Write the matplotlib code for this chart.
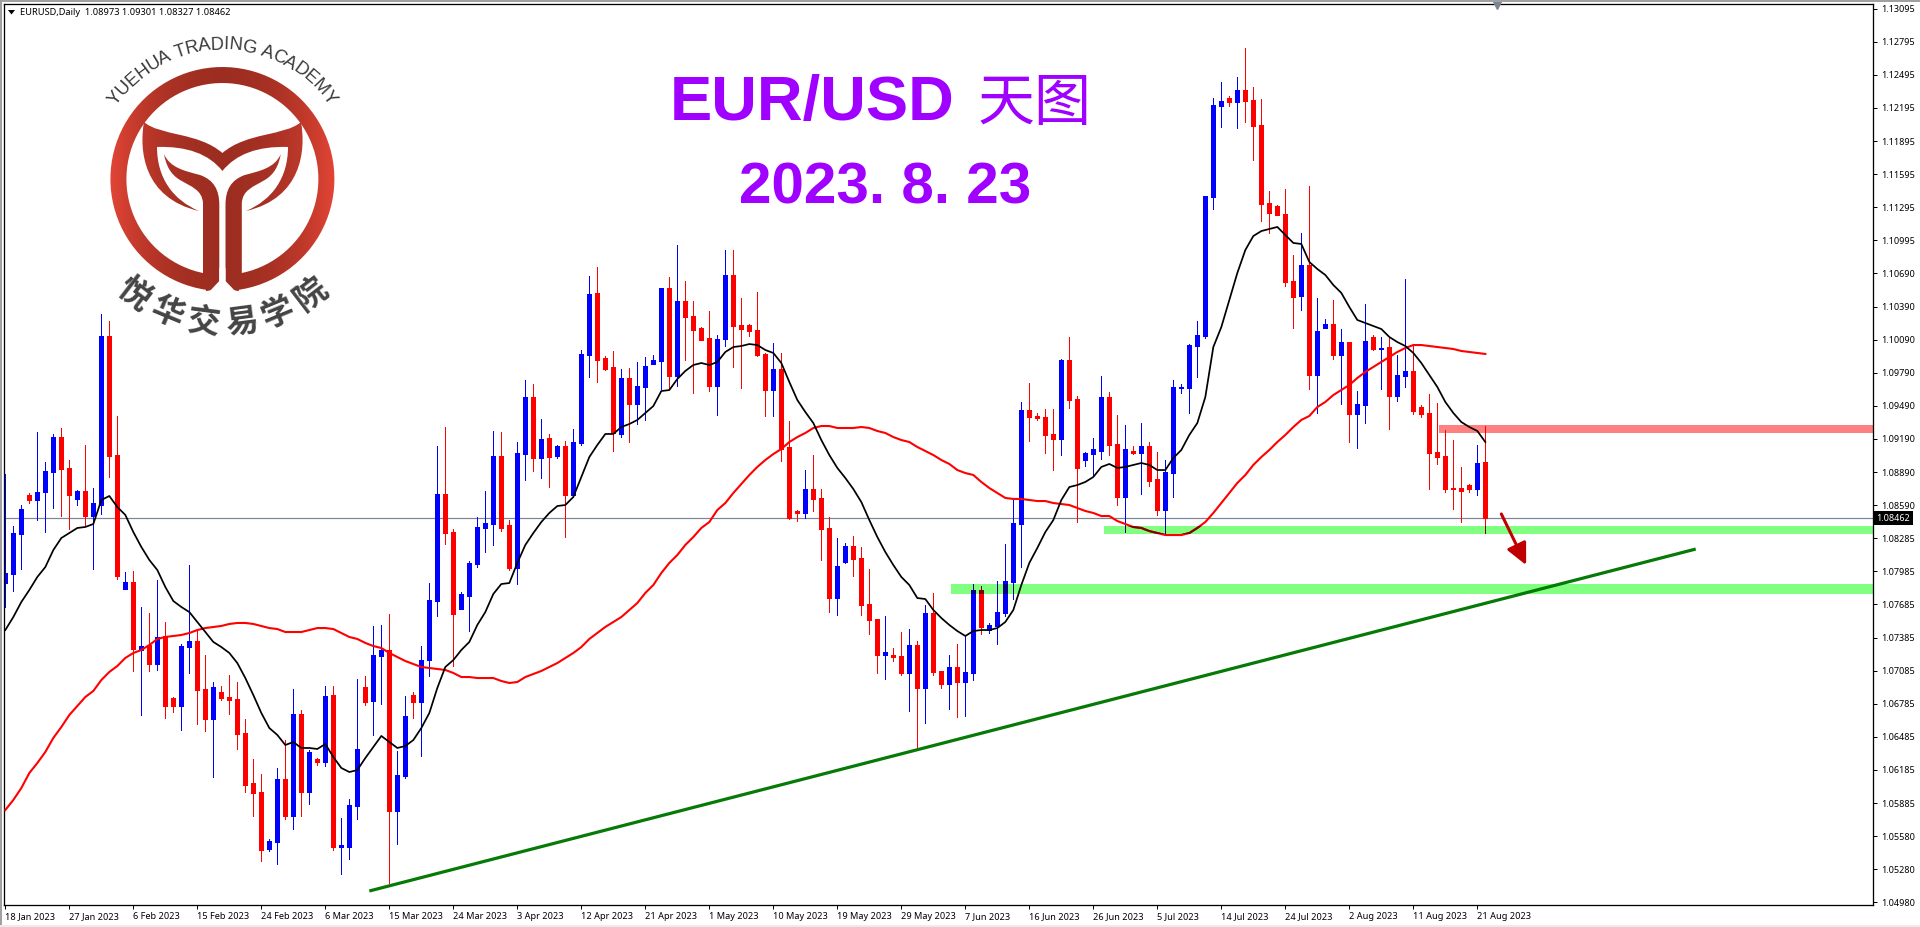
import numpy as np
import matplotlib
matplotlib.use("Agg")
import matplotlib.pyplot as plt
from matplotlib.patches import Rectangle, PathPatch, Polygon
from matplotlib.path import Path

# daily EURUSD candles
opens = [
    1.07874,1.07956,1.08318,1.08672,1.08626,1.08699,1.08880,1.09197,1.08917,1.08636,
    1.08708,1.08481,1.08581,1.10113,1.09034,1.07820,1.07883,1.07267,1.07312,1.07140,
    1.07394,1.06832,1.06760,1.07294,1.07349,1.06914,1.06642,1.06886,1.06841,1.06823,
    1.06515,1.06062,1.05980,1.05464,1.05527,1.06098,1.05763,1.06687,1.05980,1.06279,
    1.06252,1.06859,1.05482,1.05482,1.05853,1.06932,1.06805,1.07213,1.07267,1.05808,
    1.06125,1.06859,1.06796,1.07176,1.07711,1.08681,1.08336,1.07639,1.07756,1.08046,
    1.08373,1.08409,1.09025,1.08400,1.08010,1.09043,1.09560,1.09007,1.09188,1.09025,
    1.09116,1.08672,1.09143,1.09941,1.10503,1.09913,1.09832,1.09225,1.09732,1.09497,
    1.09651,1.09859,1.09886,1.10548,1.09750,1.10430,1.10294,1.10185,1.10095,1.09660,
    1.10086,1.10666,1.10213,1.10213,1.10167,1.09950,1.09623,1.09814,1.09107,1.08527,
    1.08509,1.08726,1.08645,1.08373,1.07738,1.08065,1.08210,1.08101,1.07684,1.07548,
    1.07222,1.07222,1.07213,1.07059,1.07312,1.06923,1.07602,1.07077,1.06959,1.07113,
    1.06977,1.07059,1.07811,1.07448,1.07485,1.07602,1.07883,1.08409,1.09442,1.09388,
    1.09379,1.09225,1.09179,1.09895,1.09542,1.08989,1.09043,1.09071,1.09560,1.09134,
    1.08654,1.09071,1.09052,1.09116,1.08817,1.08536,1.08871,1.09642,1.09642,1.10022,
    1.10113,1.11373,1.12197,1.12270,1.12234,1.12342,1.12252,1.12025,1.11318,1.11291,
    1.11219,1.10611,1.10475,1.10756,1.09759,1.10185,1.10222,1.09941,1.10058,1.09406,
    1.09487,1.10104,1.09995,1.10013,1.09569,1.09750,1.09796,1.09469,1.09415,1.09062,
    1.09025,1.08735,1.08735,1.08762,1.08726,1.08973,
]
highs = [
    1.08862,1.08391,1.08581,1.08690,1.09243,1.08971,1.09225,1.09279,1.08989,1.08717,
    1.09125,1.08735,1.10312,1.10249,1.09388,1.07974,1.07983,1.07657,1.07602,1.07901,
    1.07521,1.06841,1.07321,1.08037,1.07448,1.07222,1.06977,1.06941,1.07040,1.06977,
    1.06642,1.06279,1.06143,1.05554,1.06198,1.06451,1.06914,1.06723,1.06361,1.06288,
    1.06941,1.06941,1.05744,1.05917,1.07004,1.07031,1.07485,1.07494,1.07593,1.06352,
    1.06850,1.06886,1.07303,1.07874,1.09116,1.09288,1.08364,1.07793,1.08074,1.08472,
    1.08708,1.09252,1.09243,1.08445,1.09152,1.09714,1.09678,1.09361,1.09225,1.09125,
    1.09161,1.09270,1.09986,1.10657,1.10738,1.09932,1.09977,1.09814,1.09823,1.09877,
    1.09923,1.09941,1.10548,1.10648,1.10938,1.10611,1.10430,1.10194,1.10339,1.10122,
    1.10892,1.10892,1.10457,1.10222,1.10512,1.09959,1.10049,1.09959,1.09342,1.08536,
    1.08898,1.09034,1.08726,1.08472,1.08282,1.08237,1.08300,1.08201,1.08001,1.07548,
    1.07575,1.07285,1.07430,1.07457,1.07349,1.07675,1.07784,1.07077,1.07222,1.07321,
    1.07394,1.07865,1.07847,1.07512,1.07892,1.08228,1.08636,1.09515,1.09687,1.09415,
    1.09451,1.09451,1.09904,1.10104,1.09569,1.09062,1.09188,1.09750,1.09605,1.09397,
    1.09306,1.09116,1.09324,1.09152,1.09062,1.08989,1.09714,1.09678,1.10040,1.10249,
    1.11382,1.12270,1.12415,1.12288,1.12460,1.12723,1.12370,1.12261,1.11427,1.11300,
    1.11445,1.10847,1.11046,1.11472,1.10457,1.10267,1.10439,1.10176,1.10058,1.09614,
    1.10403,1.10122,1.10104,1.10104,1.09941,1.10629,1.10022,1.09487,1.09587,1.09506,
    1.09261,1.09170,1.08926,1.08772,1.09125,1.09301,
]
lows = [
    1.07657,1.07802,1.08001,1.08599,1.08445,1.08336,1.08554,1.08481,1.08364,1.08581,
    1.08400,1.08001,1.08500,1.08835,1.07911,1.07820,1.07077,1.06678,1.07077,1.07086,
    1.06651,1.06705,1.06542,1.07059,1.06596,1.06533,1.06116,1.06814,1.06687,1.06370,
    1.05980,1.05763,1.05355,1.05445,1.05328,1.05735,1.05645,1.05763,1.05871,1.06225,
    1.06216,1.05454,1.05237,1.05373,1.05735,1.06769,1.06497,1.06778,1.05155,1.05509,
    1.06107,1.06651,1.06306,1.07031,1.07575,1.08228,1.07122,1.07639,1.07439,1.08019,
    1.08155,1.08219,1.08345,1.07992,1.07865,1.08808,1.08889,1.08826,1.08744,1.09007,
    1.08291,1.08654,1.09125,1.09741,1.09696,1.09805,1.09071,1.09197,1.09152,1.09315,
    1.09352,1.09859,1.09632,1.09632,1.09660,1.09895,1.09596,1.10077,1.09614,1.09397,
    1.10022,1.09832,1.09642,1.10113,1.09932,1.09388,1.09388,1.08980,1.08454,1.08436,
    1.08463,1.08527,1.08083,1.07611,1.07584,1.08056,1.07938,1.07584,1.07412,1.07059,
    1.07004,1.07167,1.07040,1.06714,1.06370,1.06605,1.07040,1.06923,1.06732,1.06660,
    1.06669,1.06995,1.07412,1.07421,1.07321,1.07575,1.07729,1.08019,1.09161,1.09352,
    1.09052,1.08898,1.09034,1.09460,1.08427,1.08935,1.08853,1.08998,1.09034,1.08581,
    1.08336,1.09043,1.08681,1.08753,1.08491,1.08309,1.08654,1.09596,1.09415,1.09741,
    1.10095,1.11264,1.12007,1.12197,1.11998,1.12052,1.11708,1.11155,1.11046,1.11209,
    1.10566,1.10185,1.10348,1.09632,1.09415,1.10185,1.09904,1.09497,1.09152,1.09098,
    1.09324,1.09986,1.09632,1.09270,1.09524,1.09651,1.09406,1.09379,1.08726,1.08953,
    1.08699,1.08545,1.08427,1.08699,1.08672,1.08327,
]
closes = [
    1.07965,1.08327,1.08545,1.08626,1.08699,1.08889,1.09197,1.08907,1.08672,1.08708,
    1.08481,1.08599,1.10113,1.09025,1.07938,1.07883,1.07276,1.07303,1.07140,1.07385,
    1.06760,1.06760,1.07303,1.07349,1.06905,1.06642,1.06932,1.06832,1.06814,1.06506,
    1.06044,1.05971,1.05454,1.05536,1.06098,1.05763,1.06687,1.05980,1.06343,1.06252,
    1.06850,1.05482,1.05500,1.05862,1.06370,1.06796,1.07222,1.07267,1.05808,1.06134,
    1.06669,1.06796,1.07176,1.07720,1.08681,1.08327,1.07593,1.07775,1.08056,1.08382,
    1.08418,1.09025,1.08373,1.08010,1.09052,1.09560,1.09007,1.09179,1.09016,1.09116,
    1.08672,1.09152,1.09950,1.10493,1.09895,1.09814,1.09234,1.09732,1.09497,1.09660,
    1.09841,1.09895,1.10548,1.09750,1.10430,1.10285,1.10167,1.10077,1.09660,1.10086,
    1.10666,1.10203,1.10176,1.10158,1.09941,1.09623,1.09814,1.09089,1.08463,1.08509,
    1.08726,1.08636,1.08364,1.07738,1.08028,1.08210,1.08092,1.07675,1.07539,1.07222,
    1.07249,1.07204,1.07059,1.07312,1.06923,1.07602,1.07068,1.06959,1.07113,1.06977,
    1.07068,1.07811,1.07476,1.07494,1.07611,1.07892,1.08418,1.09442,1.09379,1.09370,
    1.09216,1.09179,1.09895,1.09533,1.08917,1.09052,1.09089,1.09560,1.09125,1.08654,
    1.09089,1.09052,1.09116,1.08799,1.08536,1.08880,1.09651,1.09651,1.10031,1.10122,
    1.11382,1.12206,1.12243,1.12234,1.12342,1.12243,1.12016,1.11309,1.11228,1.11209,
    1.10602,1.10466,1.10756,1.09759,1.10158,1.10222,1.09941,1.10058,1.09406,1.09497,
    1.10068,1.09995,1.10004,1.09569,1.09759,1.09796,1.09433,1.09406,1.09052,1.09016,
    1.08726,1.08726,1.08708,1.08726,1.08962,1.08462,
]
# moving averages, one value per candle
ma_black = [
    1.07448,1.07566,1.07702,1.07811,1.07929,1.08019,1.08173,1.08282,1.08327,1.08373,
    1.08382,1.08409,1.08626,1.08663,1.08563,1.08491,1.08336,1.08201,1.08083,1.07992,
    1.07838,1.07711,1.07657,1.07611,1.07521,1.07430,1.07340,1.07294,1.07240,1.07149,
    1.07013,1.06859,1.06696,1.06560,1.06497,1.06406,1.06433,1.06379,1.06379,1.06370,
    1.06415,1.06297,1.06198,1.06161,1.06179,1.06288,1.06388,1.06488,1.06433,1.06379,
    1.06397,1.06451,1.06560,1.06696,1.06923,1.07113,1.07176,1.07267,1.07340,1.07494,
    1.07611,1.07775,1.07865,1.07874,1.08056,1.08219,1.08327,1.08427,1.08509,1.08572,
    1.08581,1.08654,1.08835,1.09016,1.09125,1.09225,1.09225,1.09288,1.09315,1.09352,
    1.09415,1.09478,1.09614,1.09623,1.09723,1.09796,1.09850,1.09868,1.09850,1.09877,
    1.09968,1.10013,1.10022,1.10040,1.10031,1.09986,1.09959,1.09868,1.09696,1.09533,
    1.09424,1.09324,1.09170,1.09034,1.08917,1.08826,1.08726,1.08608,1.08445,1.08291,
    1.08155,1.08037,1.07929,1.07856,1.07738,1.07729,1.07630,1.07557,1.07494,1.07439,
    1.07394,1.07439,1.07448,1.07448,1.07466,1.07521,1.07630,1.07856,1.08056,1.08192,
    1.08336,1.08445,1.08626,1.08744,1.08762,1.08790,1.08835,1.08926,1.08953,1.08917,
    1.08926,1.08944,1.08962,1.08944,1.08898,1.08898,1.09007,1.09080,1.09216,1.09324,
    1.09560,1.10013,1.10194,1.10439,1.10684,1.10892,1.11019,1.11064,1.11083,1.11101,
    1.11028,1.10956,1.10947,1.10784,1.10720,1.10666,1.10575,1.10503,1.10376,1.10258,
    1.10231,1.10203,1.10176,1.10104,1.10058,1.10022,1.09959,1.09868,1.09759,1.09651,
    1.09515,1.09415,1.09333,1.09288,1.09252,1.09152,
]
ma_red = [
    1.05817,1.05908,1.06016,1.06152,1.06243,1.06343,1.06470,1.06569,1.06678,1.06760,
    1.06841,1.06896,1.06995,1.07068,1.07122,1.07195,1.07240,1.07267,1.07312,1.07367,
    1.07385,1.07394,1.07403,1.07421,1.07448,1.07466,1.07476,1.07485,1.07503,1.07512,
    1.07512,1.07503,1.07485,1.07466,1.07457,1.07430,1.07430,1.07430,1.07448,1.07466,
    1.07466,1.07457,1.07421,1.07385,1.07367,1.07331,1.07303,1.07285,1.07240,1.07204,
    1.07167,1.07140,1.07113,1.07104,1.07095,1.07086,1.07059,1.07022,1.07022,1.07013,
    1.07013,1.07013,1.06986,1.06968,1.06977,1.07022,1.07050,1.07077,1.07113,1.07149,
    1.07195,1.07240,1.07294,1.07367,1.07421,1.07476,1.07521,1.07566,1.07630,1.07693,
    1.07784,1.07856,1.07965,1.08056,1.08128,1.08219,1.08291,1.08373,1.08427,1.08536,
    1.08599,1.08690,1.08772,1.08853,1.08926,1.08989,1.09043,1.09089,
    1.09152,1.09197,1.09234,1.09279,1.09297,1.09297,1.09279,1.09279,1.09279,1.09288,
    1.09279,1.09252,1.09234,1.09197,1.09170,1.09152,1.09107,1.09071,1.09034,1.08989,1.08953,
    1.08898,1.08871,1.08853,1.08790,1.08735,1.08690,1.08645,1.08636,1.08636,1.08626,
    1.08617,1.08617,1.08599,1.08590,1.08581,1.08554,1.08527,1.08509,
    1.08481,1.08481,1.08436,1.08409,1.08382,1.08373,1.08345,1.08327,1.08309,1.08309,
    1.08309,1.08327,1.08373,1.08427,1.08509,1.08599,1.08690,1.08781,1.08853,1.08944,
    1.09016,1.09080,1.09152,1.09216,1.09288,1.09352,1.09388,1.09469,1.09515,1.09578,
    1.09623,1.09669,1.09732,1.09787,1.09832,1.09877,1.09923,1.09968,1.10004,1.10031,
    1.10031,1.10022,1.10013,1.10004,1.09995,1.09977,1.09968,1.09959,1.09950,
]
price_labels = ["1.13095","1.12795","1.12495","1.12195","1.11895","1.11595","1.11295",
                "1.10995","1.10690","1.10390","1.10090","1.09790","1.09490","1.09190",
                "1.08890","1.08590","1.08285","1.07985","1.07685","1.07385","1.07085",
                "1.06785","1.06485","1.06185","1.05885","1.05580","1.05280","1.04980"]
date_labels = ["18 Jan 2023","27 Jan 2023","6 Feb 2023","15 Feb 2023","24 Feb 2023",
               "6 Mar 2023","15 Mar 2023","24 Mar 2023","3 Apr 2023","12 Apr 2023",
               "21 Apr 2023","1 May 2023","10 May 2023","19 May 2023","29 May 2023",
               "7 Jun 2023","16 Jun 2023","26 Jun 2023","5 Jul 2023","14 Jul 2023",
               "24 Jul 2023","2 Aug 2023","11 Aug 2023","21 Aug 2023"]
last_price = 1.08462
trend_x = [45.5, 211.3]
trend_y = [1.05083, 1.08182]
arrow_x = [187.0, 190.1]
arrow_y = [1.08500, 1.08037]
# zones: first candle, low, high, colour
zones = [(137.3, 1.08318, 1.08391, (0.5, 1.0, 0.5)),
         (118.2, 1.07775, 1.07865, (0.5, 1.0, 0.5)),
         (179.2, 1.09234, 1.09306, (1.0, 0.5, 0.5))]

W, H = 1920, 927
ax_left, ax_right, ax_top, ax_bottom = 4, 1873, 4, 905
SMALL = ["Noto Sans", "DejaVu Sans"]
CJK = ["Noto Sans CJK SC", "DejaVu Sans"]
PURPLE = "#9f00ff"

fig = plt.figure(figsize=(W / 100, H / 100), dpi=100, facecolor="white")
ax = fig.add_axes([ax_left / W, 1 - ax_bottom / H, (ax_right - ax_left) / W, (ax_bottom - ax_top) / H])

n = len(closes)
xs = np.arange(n)
x_max = (ax_right - 5.33) / 8
x_min = (ax_left - 5.33) / 8
ax.set_xlim(x_min, x_max)
ax.set_ylim(1.13158 - 0.00009063 * ax_bottom, 1.13158 - 0.00009063 * ax_top)

opens_a, closes_a = np.array(opens), np.array(closes)
is_up = closes_a >= opens_a
col = np.array([(0, 0, 1.0) if u else (1.0, 0, 0) for u in is_up])
body_lo = np.minimum(opens_a, closes_a)
body_hi = np.maximum(opens_a, closes_a)

PX = 0.72

def draw_candles(colours, z):
    wicks = ax.vlines(xs, lows, highs, colors=colours, linewidth=PX, zorder=z, antialiased=False)
    bodies = ax.vlines(xs, body_lo, body_hi, colors=colours, linewidth=5 * PX, zorder=z,
                       antialiased=False, capstyle="butt")
    return wicks, bodies

for start, lo, hi, colour in zones:
    ax.add_patch(Rectangle((start, lo), x_max - start, hi - lo, fc=colour, ec="none", zorder=1))
ax.axhline(last_price, color="#7b8694", lw=PX * 1.2, zorder=1.5)
draw_candles(col, 2)

# candles and red line go darker where a zone lies over them
for start, lo, hi, colour in zones:
    clip = Rectangle((start, lo), x_max - start, hi - lo, transform=ax.transData)
    for coll in draw_candles(col * np.array(colour), 3):
        coll.set_clip_path(clip)

ax.plot(xs, ma_red, color="#ff0000", lw=1.5, zorder=4)
for start, lo, hi, colour in zones[:1]:
    clip = Rectangle((start, lo), x_max - start, hi - lo, transform=ax.transData)
    dark, = ax.plot(xs, ma_red, color="#800000", lw=1.5, zorder=4.5)
    dark.set_clip_path(clip)
ax.plot(xs, ma_black, color="#000000", lw=1.25, zorder=5)

ax.plot(trend_x, trend_y, color="#067a06", lw=2.3, zorder=6, solid_capstyle="butt")
ax.annotate("", xy=(arrow_x[1], arrow_y[1]), xytext=(arrow_x[0], arrow_y[0]), zorder=6,
            arrowprops=dict(arrowstyle="-|>,head_length=0.62,head_width=0.3", mutation_scale=21,
                            color="#c00000", lw=2.2, shrinkA=0, shrinkB=0))

ax.set_xticks(np.arange(len(date_labels)) * 8)
ax.set_xticklabels(date_labels, ha="left", family=SMALL, fontsize=6.6)
ax.yaxis.tick_right()
# the chart spaces its price labels evenly, the printed values are rounded
ax.set_yticks(np.linspace(1.13080, float(price_labels[-1]), len(price_labels)))
ax.set_yticklabels(price_labels, family=SMALL, fontsize=6.5)
ax.tick_params(axis="x", length=3, width=PX, pad=2)
ax.tick_params(axis="y", length=3, width=PX, pad=3)
for s in ax.spines.values():
    s.set_linewidth(PX * 1.3)
    s.set_color("black")

ax.text(1.0018, last_price, "1.08462", color="white", family=SMALL, fontsize=6.5, va="center",
        ha="left", transform=ax.get_yaxis_transform(), clip_on=False, zorder=8,
        bbox=dict(fc="black", ec="none", boxstyle="square,pad=0.3"))
ax.plot([186.4], [ax.get_ylim()[1]], marker="v", ms=7.5, color="#7b8694", clip_on=False, zorder=8)

# everything else sits in a full figure layer measured in pixels
top = fig.add_axes([0, 0, 1, 1], zorder=10)
top.patch.set_visible(False)
top.axis("off")

top.text(20, 12.5, "EURUSD,Daily  1.08973 1.09301 1.08327 1.08462", family=SMALL, fontsize=6.7,
         va="center", ha="left", color="black")
top.add_patch(Polygon([(8, 10), (15, 10), (11.5, 14.5)], fc="black", ec="none"))
top.add_patch(Rectangle((0, 0), W, 2, fc="#a0a0a0", ec="none"))
top.add_patch(Rectangle((0, 0), 2, H, fc="#a0a0a0", ec="none"))
top.add_patch(Rectangle((0, H - 2), W, 2, fc="#ececec", ec="none"))

top.text(670, 120, "EUR/USD", family="Liberation Sans", weight="bold", fontsize=45.5, color=PURPLE,
         ha="left", va="baseline")
top.text(978, 120, "天图", family=CJK, fontsize=41, color=PURPLE, ha="left", va="baseline")
top.text(739, 203, "2023. 8. 23", family="Liberation Sans", weight="bold", fontsize=42, color=PURPLE,
         ha="left", va="baseline")

# logo
cx, cy = 222.4, 179.0
grad_t = np.abs(np.linspace(-1, 1, 256)) ** 2.2
c_mid, c_edge = np.array([0.62, 0.18, 0.13]), np.array([0.89, 0.27, 0.21])
grad = (c_mid[None, :] * (1 - grad_t[:, None]) + c_edge[None, :] * grad_t[:, None])[None, :, :]

C4, MT = Path.CURVE4, Path.MOVETO

def mirrored(points):
    return [(2 * cx - x, y) for x, y in points]

theta = np.radians(np.linspace(91.6 + 1.8, 91.6 + 360 - 5.2, 200))
ring_pts = np.r_[np.c_[cx + 112 * np.cos(theta), cy + 112 * np.sin(theta)],
                 np.c_[cx + 96 * np.cos(theta[::-1]), cy + 96 * np.sin(theta[::-1])]]
ring = Path(ring_pts, closed=False)

tail_v = [(144, 122), (160, 136), (198, 132), (222.4, 153), (247, 132), (285, 136), (301, 122),
          (306, 150), (302, 198), (246, 211), (272, 200), (288, 178), (288, 147),
          (258, 146), (236, 154), (222.4, 171), (209, 154), (187, 146), (157, 147),
          (157, 178), (173, 200), (199, 211), (143, 198), (139, 150), (144, 122)]
tail_c = [MT] + [C4] * 24
tail = Path(tail_v, tail_c)

stem_left = [(164, 154), (170, 168), (185, 171), (200, 175), (214, 180), (219.3, 190), (219.3, 205),
             (219.3, 230), (219.3, 260), (219.3, 285), (215, 288), (210, 291), (206, 291),
             (205, 280), (203, 278), (203, 274), (203, 250), (203, 225), (203, 203),
             (202, 190), (192, 187), (180, 180), (170, 174), (166, 165), (164, 154)]
stem_c = [MT] + [C4] * 24
stem_a = Path(stem_left, stem_c)
stem_b = Path(mirrored(stem_left), stem_c)

for shape in (ring, tail, stem_a, stem_b):
    im = top.imshow(grad, extent=(110, 335, 292, 66), aspect="auto", zorder=2)
    im.set_clip_path(PathPatch(shape, transform=top.transData))

# white slit at the bottom of the ring
top.add_patch(Polygon([(219.3, 268), (219.3, 281), (208, 293), (237, 293), (225.5, 281), (225.5, 268)],
                      fc="white", ec="none", zorder=3))

letter_w = {"A": .667, "C": .722, "D": .722, "E": .667, "G": .778, "H": .722, "I": .278, "M": .833,
            "N": .722, "R": .722, "T": .611, "U": .722, "Y": .667, " ": .278}
logo_text = "YUEHUA TRADING ACADEMY"
size_px = 18.3
arc_r = 134.0
total = sum(letter_w[c] for c in logo_text) * size_px
pos = -total / 2
for c in logo_text:
    adv = letter_w[c] * size_px
    ang = (pos + adv / 2) / arc_r
    if c != " ":
        top.text(cx + arc_r * np.sin(ang), cy - arc_r * np.cos(ang), c, family="Liberation Sans",
                 fontsize=size_px * 0.72, color="#3a3a3a", ha="center", va="center",
                 rotation=-np.degrees(ang), rotation_mode="anchor", zorder=4)
    pos += adv

for c, deg in zip("悦华交易学院", [-37.5, -22.5, -7.5, 7.5, 22.5, 37.5]):
    a = np.radians(deg)
    top.text(cx + 145 * np.sin(a), cy + 145 * np.cos(a), c, family=CJK, weight="bold", fontsize=23.5,
             color="#444444", ha="center", va="center", rotation=deg, rotation_mode="anchor", zorder=4)

top.set_xlim(0, W)
top.set_ylim(H, 0)

fig.savefig("out.png", dpi=100)
